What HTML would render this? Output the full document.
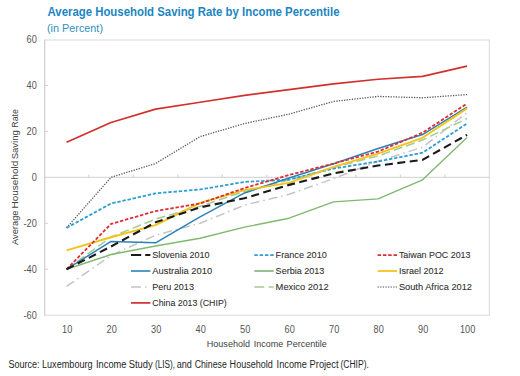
<!DOCTYPE html>
<html><head><meta charset="utf-8"><style>
html,body{margin:0;padding:0;background:#fff;}
body{width:520px;height:376px;overflow:hidden;position:relative;font-family:"Liberation Sans",sans-serif;}
svg{position:absolute;left:0;top:0;}
</style></head><body>
<svg width="520" height="376" viewBox="0 0 520 376" font-family="Liberation Sans, sans-serif">
<text x="47.5" y="16.1" font-size="12.0" textLength="292" lengthAdjust="spacingAndGlyphs" fill="#1b86bf" font-weight="bold">Average Household Saving Rate by Income Percentile</text>
<text x="47" y="31.6" font-size="10.6" textLength="56" lengthAdjust="spacingAndGlyphs" fill="#3190c0">(in Percent)</text>
<rect x="44.5" y="40" width="444.8" height="275.2" fill="none" stroke="#d9d9d9" stroke-width="1"/>
<line x1="44.8" x2="44.8" y1="40" y2="315.2" stroke="#d0d0d0" stroke-width="1"/>
<line x1="44.5" x2="489.3" y1="177.3" y2="177.3" stroke="#d0d0d0" stroke-width="1"/>
<g stroke="#d0d0d0" stroke-width="1"><line x1="45" x2="48" y1="85.4" y2="85.4"/><line x1="45" x2="48" y1="131.3" y2="131.3"/><line x1="45" x2="48" y1="223.3" y2="223.3"/><line x1="45" x2="48" y1="269.2" y2="269.2"/><line x1="88.8" x2="88.8" y1="177.3" y2="174.5"/><line x1="133.3" x2="133.3" y1="177.3" y2="174.5"/><line x1="177.8" x2="177.8" y1="177.3" y2="174.5"/><line x1="222.3" x2="222.3" y1="177.3" y2="174.5"/><line x1="266.8" x2="266.8" y1="177.3" y2="174.5"/><line x1="311.3" x2="311.3" y1="177.3" y2="174.5"/><line x1="355.8" x2="355.8" y1="177.3" y2="174.5"/><line x1="400.3" x2="400.3" y1="177.3" y2="174.5"/><line x1="444.8" x2="444.8" y1="177.3" y2="174.5"/></g>
<g font-size="10.2" fill="#555555"><text x="26.59" y="43.3" textLength="10.21" lengthAdjust="spacingAndGlyphs">60</text><text x="26.59" y="89.3" textLength="10.21" lengthAdjust="spacingAndGlyphs">40</text><text x="26.59" y="135.2" textLength="10.21" lengthAdjust="spacingAndGlyphs">20</text><text x="31.70" y="181.2" textLength="5.10" lengthAdjust="spacingAndGlyphs">0</text><text x="23.53" y="227.2" textLength="13.27" lengthAdjust="spacingAndGlyphs">-20</text><text x="23.53" y="273.1" textLength="13.27" lengthAdjust="spacingAndGlyphs">-40</text><text x="23.53" y="319.1" textLength="13.27" lengthAdjust="spacingAndGlyphs">-60</text><text x="62.05" y="333.0" textLength="10.21" lengthAdjust="spacingAndGlyphs">10</text><text x="106.55" y="333.0" textLength="10.21" lengthAdjust="spacingAndGlyphs">20</text><text x="151.05" y="333.0" textLength="10.21" lengthAdjust="spacingAndGlyphs">30</text><text x="195.55" y="333.0" textLength="10.21" lengthAdjust="spacingAndGlyphs">40</text><text x="240.05" y="333.0" textLength="10.21" lengthAdjust="spacingAndGlyphs">50</text><text x="284.55" y="333.0" textLength="10.21" lengthAdjust="spacingAndGlyphs">60</text><text x="329.05" y="333.0" textLength="10.21" lengthAdjust="spacingAndGlyphs">70</text><text x="373.55" y="333.0" textLength="10.21" lengthAdjust="spacingAndGlyphs">80</text><text x="418.05" y="333.0" textLength="10.21" lengthAdjust="spacingAndGlyphs">90</text><text x="459.99" y="333.0" textLength="15.31" lengthAdjust="spacingAndGlyphs">100</text></g>
<text transform="rotate(-90)" x="-245.00" y="18.00" font-size="9.8" textLength="34.50" lengthAdjust="spacingAndGlyphs" fill="#404040">Average</text><text transform="rotate(-90)" x="-208.50" y="18.00" font-size="9.8" textLength="47.70" lengthAdjust="spacingAndGlyphs" fill="#404040">Household</text><text transform="rotate(-90)" x="-159.30" y="18.00" font-size="9.8" textLength="29.10" lengthAdjust="spacingAndGlyphs" fill="#404040">Saving</text><text transform="rotate(-90)" x="-127.70" y="18.00" font-size="9.8" textLength="18.50" lengthAdjust="spacingAndGlyphs" fill="#404040">Rate</text>
<text x="206.80" y="346.50" font-size="9.4" textLength="43.20" lengthAdjust="spacingAndGlyphs" fill="#404040">Household</text><text x="253.70" y="346.50" font-size="9.4" textLength="29.50" lengthAdjust="spacingAndGlyphs" fill="#404040">Income</text><text x="286.60" y="346.50" font-size="9.4" textLength="40.30" lengthAdjust="spacingAndGlyphs" fill="#404040">Percentile</text>
<path d="M66.55 227.86 L111.05 177.30 L155.55 163.51 L200.05 136.63 L244.55 123.53 L289.05 114.11 L333.55 101.47 L378.05 96.41 L422.55 97.79 L467.05 94.57" stroke="#5a5a5a" stroke-width="1.3" stroke-dasharray="1.3 1.3" fill="none" stroke-linejoin="round"/>
<path d="M66.55 286.46 L111.05 255.43 L155.55 235.21 L200.05 223.26 L244.55 205.11 L289.05 194.31 L333.55 178.68 L378.05 161.21 L422.55 147.20 L467.05 112.73" stroke="#c4c4c4" stroke-width="1.5" stroke-dasharray="9 4 1.5 4" fill="none" stroke-linejoin="round"/>
<path d="M66.55 269.22 L111.05 237.05 L155.55 219.12 L200.05 206.25 L244.55 191.32 L289.05 180.06 L333.55 167.42 L378.05 155.93 L422.55 140.07 L467.05 118.47" stroke="#a3cc90" stroke-width="1.5" stroke-dasharray="9 4" fill="none" stroke-linejoin="round"/>
<path d="M66.55 269.22 L111.05 254.51 L155.55 246.01 L200.05 238.20 L244.55 227.17 L289.05 218.20 L333.55 201.89 L378.05 198.90 L422.55 179.83 L467.05 137.54" stroke="#80b870" stroke-width="1.4" fill="none" stroke-linejoin="round"/>
<path d="M66.55 227.86 L111.05 203.50 L155.55 193.39 L200.05 189.48 L244.55 181.90 L289.05 179.60 L333.55 168.57 L378.05 161.44 L422.55 152.71 L467.05 123.53" stroke="#2d9dd6" stroke-width="1.8" stroke-dasharray="3.4 1.8" fill="none" stroke-linejoin="round"/>
<path d="M66.55 269.22 L111.05 241.41 L155.55 242.79 L200.05 216.83 L244.55 192.93 L289.05 177.99 L333.55 163.74 L378.05 148.58 L422.55 134.56 L467.05 107.21" stroke="#2a82b8" stroke-width="1.5" fill="none" stroke-linejoin="round"/>
<path d="M66.55 250.38 L111.05 237.28 L155.55 225.10 L200.05 202.81 L244.55 190.17 L289.05 182.82 L333.55 166.96 L378.05 153.63 L422.55 137.77 L467.05 108.36" stroke="#f3c31c" stroke-width="1.9" fill="none" stroke-linejoin="round"/>
<path d="M66.55 269.22 L111.05 223.95 L155.55 211.08 L200.05 203.50 L244.55 188.10 L289.05 175.00 L333.55 163.51 L378.05 151.56 L422.55 132.72 L467.05 103.53" stroke="#dd2d36" stroke-width="1.8" stroke-dasharray="3.4 1.8" fill="none" stroke-linejoin="round"/>
<path d="M66.55 269.22 L111.05 246.47 L155.55 222.34 L200.05 207.40 L244.55 198.21 L289.05 184.88 L333.55 173.39 L378.05 165.58 L422.55 159.84 L467.05 134.79" stroke="#1a1a1a" stroke-width="2.1" stroke-dasharray="8 4.5" fill="none" stroke-linejoin="round"/>
<path d="M66.55 142.26 L111.05 122.49 L155.55 109.16 L200.05 102.27 L244.55 95.38 L289.05 89.63 L333.55 83.89 L378.05 79.29 L422.55 76.42 L467.05 66.08" stroke="#d2302d" stroke-width="1.65" fill="none" stroke-linejoin="round"/>
<g font-size="9.3" fill="#2e2e2e" stroke="#2e2e2e" stroke-width="0.08"><line x1="131.0" x2="150.4" y1="255.1" y2="255.1" stroke="#1a1a1a" stroke-width="2.0" stroke-dasharray="10.2 4"/><text x="152.3" y="258.4" textLength="57.2" lengthAdjust="spacingAndGlyphs">Slovenia 2010</text><line x1="254.3" x2="273.7" y1="255.1" y2="255.1" stroke="#2d9dd6" stroke-width="1.8" stroke-dasharray="3.5 1.8"/><text x="275.6" y="258.4" textLength="51.2" lengthAdjust="spacingAndGlyphs">France 2010</text><line x1="377.6" x2="397.0" y1="255.1" y2="255.1" stroke="#dd2d36" stroke-width="1.8" stroke-dasharray="3.5 1.8"/><text x="398.9" y="258.4" textLength="71.6" lengthAdjust="spacingAndGlyphs">Taiwan POC 2013</text><line x1="131.0" x2="150.4" y1="271.0" y2="271.0" stroke="#2a82b8" stroke-width="1.6"/><text x="152.3" y="274.3" textLength="59.8" lengthAdjust="spacingAndGlyphs">Australia 2010</text><line x1="254.3" x2="273.7" y1="271.0" y2="271.0" stroke="#7db46c" stroke-width="1.6"/><text x="275.6" y="274.3" textLength="48.8" lengthAdjust="spacingAndGlyphs">Serbia 2013</text><line x1="377.6" x2="397.0" y1="271.0" y2="271.0" stroke="#f3c31c" stroke-width="1.8"/><text x="398.9" y="274.3" textLength="44.5" lengthAdjust="spacingAndGlyphs">Israel 2012</text><line x1="131.0" x2="150.4" y1="287.0" y2="287.0" stroke="#c4c4c4" stroke-width="1.5" stroke-dasharray="10 4 1.5 4"/><text x="152.3" y="290.3" textLength="41.6" lengthAdjust="spacingAndGlyphs">Peru 2013</text><line x1="254.3" x2="273.7" y1="287.0" y2="287.0" stroke="#a3cc90" stroke-width="1.5" stroke-dasharray="10 4.4"/><text x="275.6" y="290.3" textLength="53.1" lengthAdjust="spacingAndGlyphs">Mexico 2012</text><line x1="377.6" x2="397.0" y1="287.0" y2="287.0" stroke="#505050" stroke-width="1.1" stroke-dasharray="1.3 1.3"/><text x="398.9" y="290.3" textLength="73.1" lengthAdjust="spacingAndGlyphs">South Africa 2012</text><line x1="131.0" x2="150.4" y1="302.9" y2="302.9" stroke="#d2302d" stroke-width="1.7"/><text x="152.3" y="306.2" textLength="74.4" lengthAdjust="spacingAndGlyphs">China 2013 (CHIP)</text></g>
<text x="8.40" y="367.90" font-size="10.0" textLength="31.10" lengthAdjust="spacingAndGlyphs" fill="#262626">Source:</text><text x="42.00" y="367.90" font-size="10.0" textLength="50.60" lengthAdjust="spacingAndGlyphs" fill="#262626">Luxembourg</text><text x="96.00" y="367.90" font-size="10.0" textLength="30.50" lengthAdjust="spacingAndGlyphs" fill="#262626">Income</text><text x="128.70" y="367.90" font-size="10.0" textLength="24.00" lengthAdjust="spacingAndGlyphs" fill="#262626">Study</text><text x="155.00" y="367.90" font-size="10.0" textLength="20.10" lengthAdjust="spacingAndGlyphs" fill="#262626">(LIS),</text><text x="176.80" y="367.90" font-size="10.0" textLength="15.10" lengthAdjust="spacingAndGlyphs" fill="#262626">and</text><text x="194.70" y="367.90" font-size="10.0" textLength="32.10" lengthAdjust="spacingAndGlyphs" fill="#262626">Chinese</text><text x="229.60" y="367.90" font-size="10.0" textLength="43.30" lengthAdjust="spacingAndGlyphs" fill="#262626">Household</text><text x="276.60" y="367.90" font-size="10.0" textLength="30.20" lengthAdjust="spacingAndGlyphs" fill="#262626">Income</text><text x="309.60" y="367.90" font-size="10.0" textLength="28.90" lengthAdjust="spacingAndGlyphs" fill="#262626">Project</text><text x="340.40" y="367.90" font-size="10.0" textLength="28.50" lengthAdjust="spacingAndGlyphs" fill="#262626">(CHIP).</text>
</svg>
</body></html>
